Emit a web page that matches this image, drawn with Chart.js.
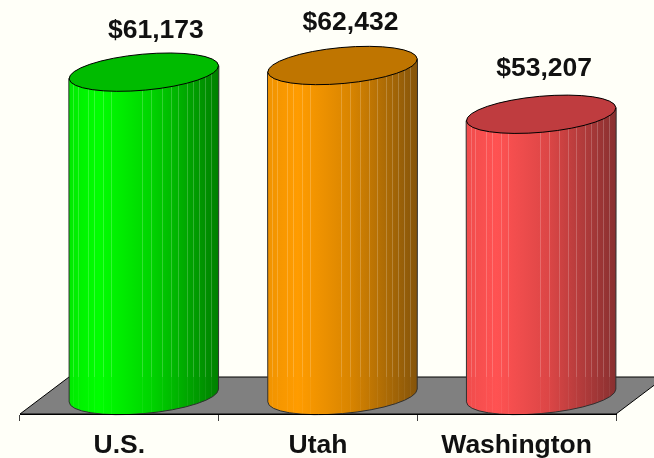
<!DOCTYPE html>
<html>
<head>
<meta charset="utf-8">
<title>Median household income</title>
<script src="https://cdn.jsdelivr.net/npm/chart.js@4"></script>
<style>
    body { margin: 0; background: #fffff8; }
    canvas { display: block; }
</style>
</head>
<body>
<canvas id="incomeChart" width="654" height="458"></canvas>
<script>
"use strict";

// Chart data
var categories = ["U.S.", "Utah", "Washington"];
var incomes = [61173, 62432, 53207];
var valueLabels = ["$61,173", "$62,432", "$53,207"];

// Base colour of each column: [left, bright, middle, right, top]
var columnColors = [
    ["#00ea00", "#00ff00", "#00d400", "#007f00", "#00bb00"],
    ["#f09300", "#ff9c00", "#d98500", "#85540a", "#bf7500"],
    ["#f04c4c", "#ff5252", "#dc4646", "#883030", "#bf3c3f"]
];

// Floor depth, the columns stand in the middle of it
var depthX = 49;
var depthY = 37;

// Where the thin facet lines sit, as a share of the column width
var facets = [0.03, 0.06, 0.13, 0.17, 0.23, 0.28, 0.49, 0.55, 0.62, 0.68, 0.73, 0.79, 0.83, 0.87, 0.91, 0.95];

// Nudge of the value labels from the column centre
var labelShiftX = [12, 8, 3];
var labelShiftY = [41, 43, 46];

var tilt = -5.2 * Math.PI / 180;
var ellipseB = 18;

function drawFloor(chart) {
    var ctx = chart.ctx;
    var area = chart.chartArea;

    ctx.save();
    ctx.beginPath();
    ctx.moveTo(area.left, area.bottom);
    ctx.lineTo(area.left + depthX, area.bottom - depthY);
    ctx.lineTo(area.right + depthX, area.bottom - depthY);
    ctx.lineTo(area.right, area.bottom);
    ctx.closePath();
    ctx.fillStyle = "#808080";
    ctx.fill();
    ctx.strokeStyle = "#000000";
    ctx.lineWidth = 1;
    ctx.stroke();
    ctx.restore();
}

function drawColumn(chart, bar, i) {
    var ctx = chart.ctx;
    var area = chart.chartArea;
    var colors = columnColors[i];
    var cx = bar.x + depthX / 2;
    var topY = bar.y - depthY / 2;
    var baseY = bar.base - depthY / 2;
    var rx = bar.width / 2;
    var left = cx - rx;
    var right = cx + rx;

    // Angle on the tilted ellipse where it is widest, the sides start there
    var sideAngle = Math.atan(-(ellipseB / rx) * Math.tan(tilt));
    var rise = rx * Math.cos(sideAngle) * Math.sin(-tilt) - ellipseB * Math.sin(sideAngle) * Math.cos(tilt);

    var gradient = ctx.createLinearGradient(left, 0, right, 0);
    gradient.addColorStop(0, colors[0]);
    gradient.addColorStop(0.2, colors[1]);
    gradient.addColorStop(0.55, colors[2]);
    gradient.addColorStop(1, colors[3]);

    ctx.save();

    // Side of the cylinder
    var side = new Path2D();
    side.ellipse(cx, baseY, rx, ellipseB, tilt, Math.PI + sideAngle, sideAngle, true);
    side.lineTo(right, topY - rise);
    side.lineTo(left, topY + rise);
    side.closePath();
    ctx.fillStyle = gradient;
    ctx.fill(side);

    // Facet lines, fainter where the floor is behind
    ctx.save();
    ctx.clip(side);
    var backEdge = area.bottom - depthY;
    for (let f = 0; f < facets.length; f++) {
        var fx = Math.round(left + facets[f] * bar.width) + 0.5;
        ctx.strokeStyle = "rgba(255, 255, 255, 0.2)";
        ctx.beginPath();
        ctx.moveTo(fx, topY);
        ctx.lineTo(fx, backEdge);
        ctx.stroke();
        ctx.strokeStyle = "rgba(255, 255, 255, 0.06)";
        ctx.beginPath();
        ctx.moveTo(fx, backEdge);
        ctx.lineTo(fx, area.bottom);
        ctx.stroke();
    }
    ctx.restore();

    ctx.strokeStyle = "#303030";
    ctx.lineWidth = 1;
    ctx.stroke(side);

    // Top of the cylinder
    ctx.beginPath();
    ctx.ellipse(cx, topY, rx, ellipseB, tilt, 0, Math.PI * 2);
    ctx.fillStyle = colors[4];
    ctx.fill();
    ctx.strokeStyle = "#000000";
    ctx.stroke();

    // Value above the column
    ctx.fillStyle = "#111111";
    ctx.font = "bold 26.5px 'Liberation Sans', Arial, sans-serif";
    ctx.textAlign = "center";
    ctx.textBaseline = "middle";
    ctx.fillText(valueLabels[i], cx + labelShiftX[i], topY - labelShiftY[i]);

    ctx.restore();
}

var cylinderPlugin = {
    id: "cylinders",
    beforeDatasetsDraw: function(chart) {
        drawFloor(chart);
    },
    afterDatasetsDraw: function(chart) {
        var bars = chart.getDatasetMeta(0).data;
        for (let i = 0; i < bars.length; i++) {
            drawColumn(chart, bars[i], i);
        }
    }
};

var config = {
    type: "bar",
    data: {
        labels: categories,
        datasets: [{
            data: incomes,
            backgroundColor: "rgba(0, 0, 0, 0)",
            borderWidth: 0,
            barPercentage: 0.755,
            categoryPercentage: 1
        }]
    },
    options: {
        responsive: false,
        animation: false,
        layout: {
            padding: { left: 20, right: 38, top: 44, bottom: 0 }
        },
        plugins: {
            legend: { display: false },
            title: { display: false },
            tooltip: { enabled: false }
        },
        scales: {
            x: {
                offset: true,
                afterFit: function(scale) {
                    scale.height = 44;
                },
                border: { color: "#000000", width: 1, z: 1 },
                grid: {
                    display: true,
                    drawOnChartArea: false,
                    drawTicks: true,
                    tickLength: 7,
                    tickColor: "#404040",
                    offset: true
                },
                ticks: {
                    color: "#111111",
                    padding: 9,
                    maxRotation: 0,
                    autoSkip: false,
                    font: { family: "'Liberation Sans', Arial, sans-serif", size: 26.5, weight: "bold" }
                }
            },
            y: {
                display: false,
                min: 0,
                max: 70000
            }
        }
    },
    plugins: [cylinderPlugin]
};

window.onload = function() {
    var ctx = document.getElementById("incomeChart").getContext("2d");
    new Chart(ctx, config);
};
</script>
</body>
</html>
